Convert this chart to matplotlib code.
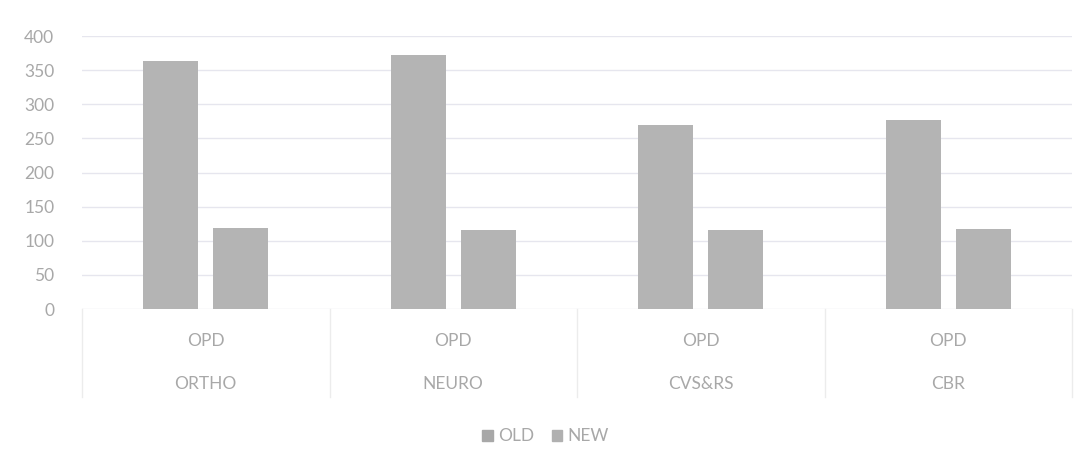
import matplotlib
matplotlib.use("Agg")
import matplotlib.pyplot as plt
import numpy as np
from matplotlib.patches import Patch

categories = ["ORTHO", "NEURO", "CVS&RS", "CBR"]
sub_label = ["OPD", "OPD", "OPD", "OPD"]
series_names = ["OLD", "NEW"]
old_vals = [363, 372, 270, 277]
new_vals = [119, 116, 116, 117]
yticks = [0, 50, 100, 150, 200, 250, 300, 350, 400]

plt.rcParams['font.family'] = ['Lato', 'DejaVu Sans']
text_col = "#a8a8a8"
bar_col = "#b4b4b4"
grid_col = "#e6e6ee"

fig = plt.figure(figsize=(10.91, 4.67), dpi=100)
ax = fig.add_axes([0.0752, 0.3383, 0.9074, 0.5846])

x = np.arange(len(categories))
w = 0.222
off = 0.141
ax.bar(x - off, old_vals, width=w, color=bar_col, zorder=2, label=series_names[0])
ax.bar(x + off, new_vals, width=w, color=bar_col, zorder=2, label=series_names[1])

ax.set_xlim(-0.5, len(categories) - 0.5)
ax.set_ylim(0, 400)
ax.set_yticks(yticks)
ax.set_yticklabels([str(v) for v in yticks], color=text_col, fontsize=12.5)
ax.tick_params(axis='y', length=0, pad=20)
ax.set_xticks([])
for v in yticks:
    ax.axhline(v, color=grid_col, lw=1.0, zorder=1)
for s in ax.spines.values():
    s.set_visible(False)

# category axis area
for i in range(len(categories) + 1):
    ax.plot([i - 0.5, i - 0.5], [0, -0.322], transform=ax.get_xaxis_transform(),
            color="#ececec", lw=1.0, clip_on=False)
for i, (c, s) in enumerate(zip(categories, sub_label)):
    ax.text(i, -0.117, s, transform=ax.get_xaxis_transform(), ha='center', va='center',
            color=text_col, fontsize=12.5)
    ax.text(i, -0.275, c, transform=ax.get_xaxis_transform(), ha='center', va='center',
            color=text_col, fontsize=12.5)

handles = [Patch(color="#a8a8a8"), Patch(color="#b0b0b0")]
fig.legend(handles, series_names, loc='center', bbox_to_anchor=(0.5, 0.066), ncol=2,
           frameon=False, fontsize=12.5, labelcolor=text_col, handlelength=0.6,
           handleheight=0.6, handletextpad=0.3, columnspacing=1.0)

fig.savefig("out.png", dpi=100, facecolor="white")
